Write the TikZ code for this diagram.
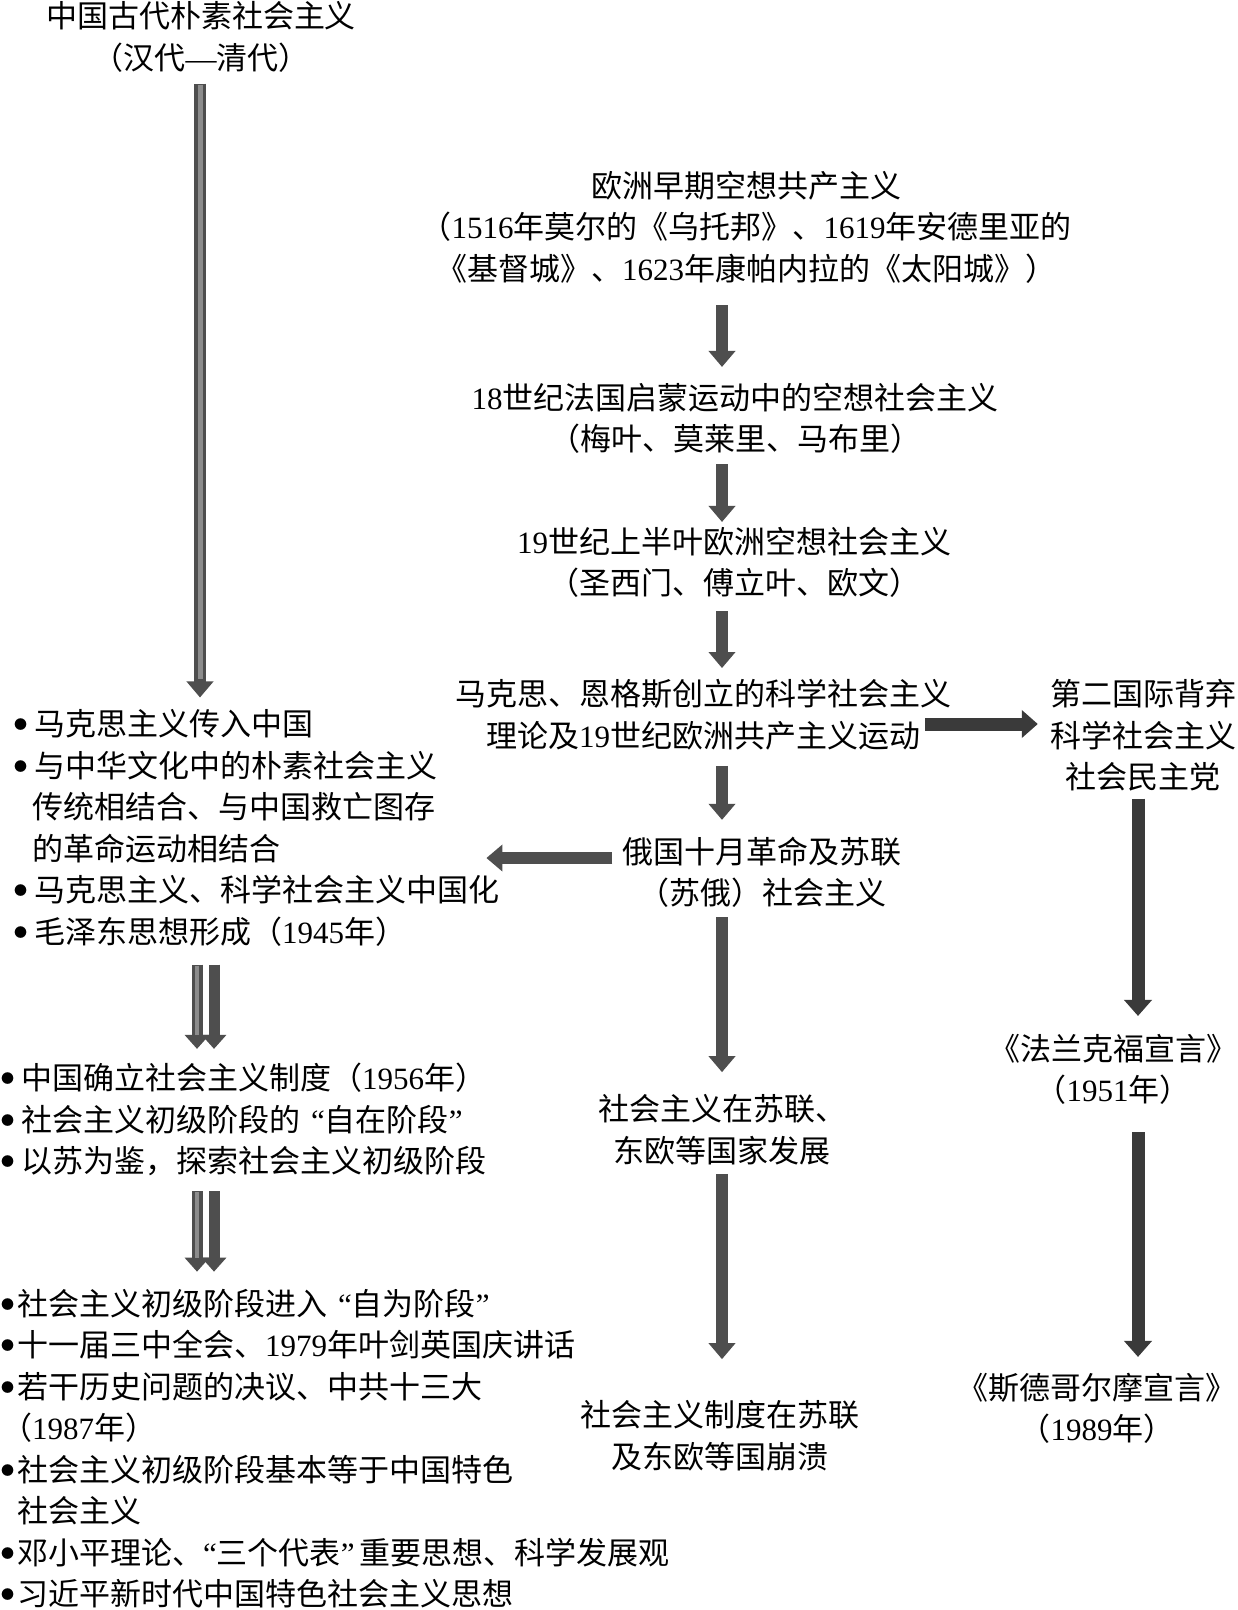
\documentclass[tikz,border=0pt]{standalone}
\usepackage{fontspec}
\setmainfont{Liberation Serif}
\newfontfamily\cjk{Noto Sans CJK SC}
\usetikzlibrary{arrows.meta}
\definecolor{agray}{RGB}{78,78,78}
\definecolor{adark}{RGB}{58,58,58}
\definecolor{alight}{RGB}{140,140,140}
\newcommand\nm[1]{{\rmfamily #1}}
\newcommand\blt[1]{\makebox[#1][l]{\raisebox{6pt}{\fontsize{13}{13}\selectfont ●}}}
\newcommand\oq{\makebox[0.8em][r]{\rmfamily “}}
\newcommand\cq{\makebox[0.8em][l]{\rmfamily ”}}
\tikzset{
  txt/.style={inner sep=0pt, font=\cjk\fontsize{31}{41.5}\selectfont, align=center},
  ltxt/.style={txt, align=left, anchor=west},
  arr/.style={line width=12pt, draw=agray, -{Triangle[width=26pt,length=16pt]}},
  arrd/.style={arr, draw=adark, line width=13pt, -{Triangle[width=27pt,length=16pt]}},
  arrhl/.style={line width=5pt, draw=alight},
}
\begin{document}
\begin{tikzpicture}[x=1pt,y=-1pt]
\useasboundingbox[fill=white] (0,0) rectangle (1238,1610);

% ---------- text nodes ----------
\node[txt] (top) at (201,37) {中国古代朴素社会主义\\（汉代\nm{—}清代）};
\node[txt] (eu) at (746,227) {欧洲早期空想共产主义\\（\nm{1516}年莫尔的《乌托邦》、\nm{1619}年安德里亚的\\《基督城》、\nm{1623}年康帕内拉的《太阳城》）};
\node[txt] (fr) at (735,418.5) {\nm{18}世纪法国启蒙运动中的空想社会主义\\（梅叶、莫莱里、马布里）};
\node[txt] (c19) at (734,562.5) {\nm{19}世纪上半叶欧洲空想社会主义\\（圣西门、傅立叶、欧文）};
\node[txt] (mx) at (703,714.5) {马克思、恩格斯创立的科学社会主义\\理论及\nm{19}世纪欧洲共产主义运动};
\node[txt] (si) at (1143,735.5) {第二国际背弃\\科学社会主义\\社会民主党};
\node[txt] (ru) at (762,872.5) {俄国十月革命及苏联\\（苏俄）社会主义};
\node[txt] (dev) at (722,1129.5) {社会主义在苏联、\\东欧等国家发展};
\node[txt] (col) at (720,1435.5) {社会主义制度在苏联\\及东欧等国崩溃};
\node[txt] (ff) at (1113,1069.5) {《法兰克福宣言》\\（\nm{1951}年）};
\node[txt] (sh) at (1097,1408.5) {《斯德哥尔摩宣言》\\（\nm{1989}年）};

\node[ltxt] (g1) at (14,828) {\blt{20pt}马克思主义传入中国\\%
\blt{20pt}与中华文化中的朴素社会主义\\%
\hspace*{18pt}传统相结合、与中国救亡图存\\%
\hspace*{18pt}的革命运动相结合\\%
\blt{20pt}马克思主义、科学社会主义中国化\\%
\blt{20pt}毛泽东思想形成（\nm{1945}年）};

\node[ltxt] (g2) at (1,1119.5) {\blt{20pt}中国确立社会主义制度（\nm{1956}年）\\%
\blt{20pt}社会主义初级阶段的\oq 自在阶段\cq\\%
\blt{20pt}以苏为鉴，探索社会主义初级阶段};

\node[ltxt] (g3) at (1,1448.5) {\blt{16pt}社会主义初级阶段进入\oq 自为阶段\cq\\%
\blt{16pt}十一届三中全会、\nm{1979}年叶剑英国庆讲话\\%
\blt{16pt}若干历史问题的决议、中共十三大\\%
（\nm{1987}年）\\%
\blt{16pt}社会主义初级阶段基本等于中国特色\\%
\hspace*{16pt}社会主义\\%
\blt{16pt}邓小平理论、\nm{“}三个代表\nm{”}\,重要思想、科学发展观\\%
\blt{16pt}习近平新时代中国特色社会主义思想};

% ---------- guide coordinates ----------
\coordinate (xl) at (200,0);
\coordinate (xc) at (722,0);
\coordinate (xr) at (1138,0);
\coordinate (xd1) at (197,0);
\coordinate (xd2) at (214,0);
\coordinate (yh) at (0,724);
\coordinate (yl) at (0,858);

% ---------- connectors ----------
\draw[arr,shorten <=11pt,shorten >=12pt] (top.south -| xl) -- (g1.north -| xl);
\draw[arrhl,shorten <=12pt,shorten >=30pt] (top.south -| xl) -- (g1.north -| xl);

\draw[arr,shorten <=22pt,shorten >=16pt] (eu.south -| xc) -- (fr.north -| xc);
\draw[arr,shorten <=10pt,shorten >=5pt] (fr.south -| xc) -- (c19.north -| xc);
\draw[arr,shorten <=13pt,shorten >=11pt] (c19.south -| xc) -- (mx.north -| xc);
\draw[arr,shorten <=16pt,shorten >=17pt] (mx.south -| xc) -- (ru.north -| xc);
\draw[arr,shorten <=9pt,shorten >=22pt] (ru.south -| xc) -- (dev.north -| xc);
\draw[arr,shorten <=9pt,shorten >=41pt] (dev.south -| xc) -- (col.north -| xc);

\draw[arrd,shorten <=222pt,shorten >=12pt] (mx.center |- yh) -- (si.west |- yh);
\draw[arr,shorten <=10pt,shorten >=-13pt] (ru.west |- yl) -- (g1.east |- yl);

\draw[arrd,shorten <=7pt,shorten >=18pt] (si.south -| xr) -- (ff.north -| xr);
\draw[arrd,shorten <=27pt,shorten >=16pt] (ff.south -| xr) -- (sh.north -| xr);

\draw[arr,line width=11pt,-{Triangle[width=24pt,length=14pt]},shorten <=18pt,shorten >=14pt] (g1.south -| xd1) -- (g2.north -| xd1);
\draw[arrhl,line width=4pt,shorten <=19pt,shorten >=28pt] (g1.south -| xd1) -- (g2.north -| xd1);
\draw[arr,line width=11pt,-{Triangle[width=24pt,length=14pt]},shorten <=18pt,shorten >=14pt] (g1.south -| xd2) -- (g2.north -| xd2);

\draw[arr,line width=11pt,-{Triangle[width=24pt,length=14pt]},shorten <=15pt,shorten >=17pt] (g2.south -| xd1) -- (g3.north -| xd1);
\draw[arrhl,line width=4pt,shorten <=16pt,shorten >=31pt] (g2.south -| xd1) -- (g3.north -| xd1);
\draw[arr,line width=11pt,-{Triangle[width=24pt,length=14pt]},shorten <=15pt,shorten >=17pt] (g2.south -| xd2) -- (g3.north -| xd2);
\end{tikzpicture}
\end{document}
